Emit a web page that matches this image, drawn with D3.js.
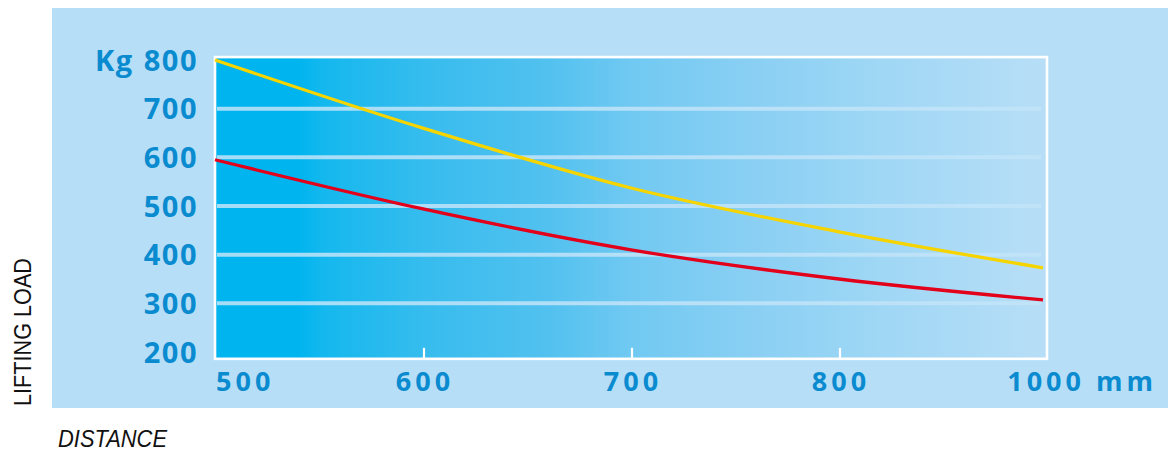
<!DOCTYPE html>
<html><head><meta charset="utf-8">
<script src="https://cdn.jsdelivr.net/npm/d3@7"></script>
<style>html,body{margin:0;padding:0;background:#fff;}svg{display:block;}</style>
</head><body>
<svg id="c" width="1170" height="452"></svg>
<script>
// ---- data ----
const distances = ["500", "600", "700", "800", "1000"];
const yellowLoad = [800, 660, 537, 447, 373];
const redLoad = [595, 494, 410, 350, 307];
const yTicks = [200, 300, 400, 500, 600, 700, 800];
const gridTicks = [300, 400, 500, 600, 700];
const xTickMarks = ["600", "700", "800"];
const yUnit = "Kg";
const xUnit = "mm";

const svg = d3.select("#c");
const blue = "#0a8bd0";

const x = d3.scalePoint().domain(distances).range([215, 1047]);
const y = d3.scaleLinear().domain([200, 800]).range([352, 60]);

const defs = svg.append("defs");
const g = defs.append("linearGradient").attr("id", "bg").attr("x1", 0).attr("x2", 1).attr("y1", 0).attr("y2", 0);
[[0, "#00b4ef"], [0.1, "#00b4ef"], [0.13, "#14b8ee"], [0.25, "#36bcee"], [0.4, "#52c1ef"], [0.5, "#70c9f2"], [0.62, "#86cef3"], [0.8, "#9fd7f5"], [1, "#b8def7"]]
  .forEach(([o, c]) => g.append("stop").attr("offset", o).attr("stop-color", c));

// panel
svg.append("rect").attr("x", 52).attr("y", 8).attr("width", 1116).attr("height", 400).attr("fill", "#b6dff7");

const px0 = x("500"), px1 = x("1000");
const py0 = y(806), py1 = y(186);
svg.append("rect").attr("x", px0).attr("y", py0).attr("width", px1 - px0).attr("height", py1 - py0)
  .attr("fill", "url(#bg)");

// grid lines
svg.append("g").selectAll("line").data(gridTicks).join("line")
  .attr("x1", px0 + 2).attr("x2", px1 - 6)
  .attr("y1", d => y(d)).attr("y2", d => y(d))
  .attr("stroke", "#c2e4f8").attr("stroke-opacity", 0.85).attr("stroke-width", 4);

// tick marks
svg.append("g").selectAll("line").data(xTickMarks).join("line")
  .attr("x1", d => x(d) + 1).attr("x2", d => x(d) + 1)
  .attr("y1", py1 - 11).attr("y2", py1)
  .attr("stroke", "#fff").attr("stroke-width", 2.2);

// frame
svg.append("rect").attr("x", px0).attr("y", py0).attr("width", px1 - px0).attr("height", py1 - py0)
  .attr("fill", "none").attr("stroke", "#fff").attr("stroke-width", 2.6);

// curves
const line = d3.line().x((d, i) => x(distances[i]) - (i === distances.length - 1 ? 4 : 0)).y(d => y(d)).curve(d3.curveMonotoneX);
svg.append("path").datum(yellowLoad).attr("d", line).attr("fill", "none")
  .attr("stroke", "#f6d400").attr("stroke-width", 3.3);
svg.append("path").datum(redLoad).attr("d", line).attr("fill", "none")
  .attr("stroke", "#e2001a").attr("stroke-width", 3.3);

// y labels
svg.append("g").selectAll("text").data(yTicks).join("text")
  .attr("x", 198).attr("y", d => y(d) + 10.5)
  .attr("text-anchor", "end")
  .attr("font-family", "Open Sans").attr("font-weight", 700).attr("font-size", 29)
  .attr("letter-spacing", 1.5).attr("word-spacing", 1)
  .attr("fill", blue)
  .text(d => d === 800 ? yUnit + " " + d : d);

// x labels
const xl = svg.append("g").attr("font-family", "Open Sans").attr("font-weight", 700)
  .attr("font-size", 27).attr("letter-spacing", 4).attr("fill", blue);
xl.selectAll("text").data(distances).join("text")
  .attr("x", (d, i) => i === 0 ? x(d) + 1 : (i === distances.length - 1 ? 1157 : x(d) + 2))
  .attr("y", 391)
  .attr("text-anchor", (d, i) => i === 0 ? "start" : (i === distances.length - 1 ? "end" : "middle"))
  .text((d, i) => i === distances.length - 1 ? d + " " + xUnit : d);

// axis titles
svg.append("text").attr("transform", "translate(31,406) rotate(-90)")
  .attr("font-family", "Liberation Sans").attr("font-size", 23).attr("fill", "#111")
  .attr("textLength", 148).attr("lengthAdjust", "spacingAndGlyphs")
  .text("LIFTING LOAD");
svg.append("text").attr("x", 58).attr("y", 447)
  .attr("font-family", "Liberation Sans").attr("font-style", "italic").attr("font-size", 24).attr("fill", "#111")
  .attr("textLength", 109).attr("lengthAdjust", "spacingAndGlyphs")
  .text("DISTANCE");
</script>
</body></html>
